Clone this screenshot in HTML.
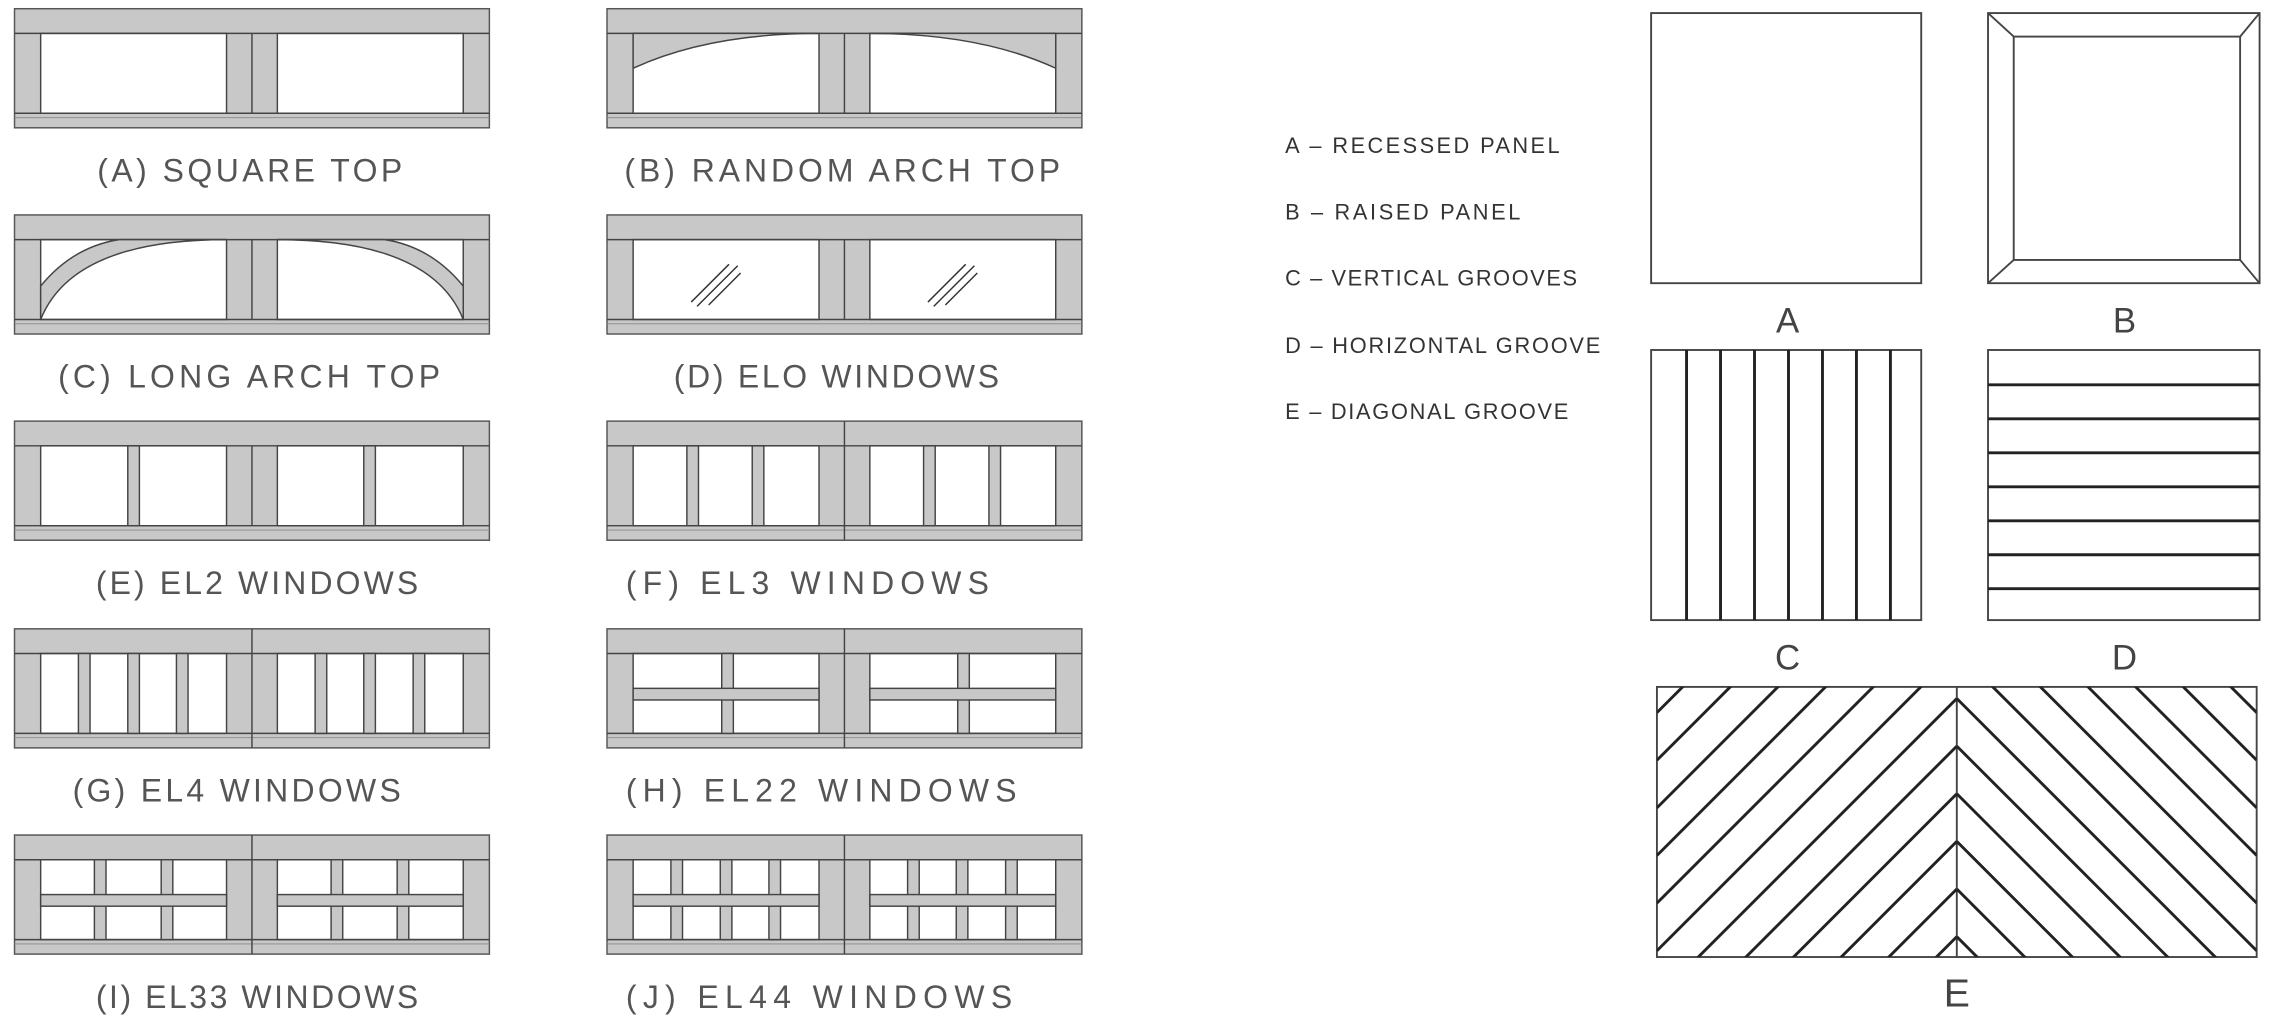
<!DOCTYPE html>
<html><head><meta charset="utf-8"><style>
html,body{margin:0;padding:0;background:#fff;overflow:hidden;width:2277px;height:1026px;}
svg{display:block;}
</style></head><body>
<svg width="2277" height="1026" viewBox="0 0 1568 706.5" preserveAspectRatio="none" xmlns="http://www.w3.org/2000/svg" xmlns:xlink="http://www.w3.org/1999/xlink">
<defs>
<g id="base">
  <rect x="0" y="0" width="327" height="82" fill="#c8c8c8" stroke="#555" stroke-width="1"/>
  <rect x="18" y="17" width="128" height="55" fill="#fff" stroke="#444" stroke-width="1"/>
  <rect x="181" y="17" width="128" height="55" fill="#fff" stroke="#444" stroke-width="1"/>
  <line x1="0" y1="17" x2="327" y2="17" stroke="#444" stroke-width="1"/>
  <line x1="0" y1="72" x2="327" y2="72" stroke="#444" stroke-width="1"/>
  <line x1="0" y1="75" x2="327" y2="75" stroke="#888" stroke-width="0.6"/>
</g>
<g id="c1"><line x1="163.5" y1="17" x2="163.5" y2="72" stroke="#444" stroke-width="1"/></g>
<g id="c2"><line x1="163.5" y1="0" x2="163.5" y2="82" stroke="#444" stroke-width="1"/></g>
<g id="hm">
  <rect x="18" y="41" width="128" height="8" fill="#c8c8c8" stroke="#444" stroke-width="1"/>
  <rect x="181" y="41" width="128" height="8" fill="#c8c8c8" stroke="#444" stroke-width="1"/>
</g>
<clipPath id="eL"><rect x="1141" y="473" width="206.5" height="186"/></clipPath>
<clipPath id="eR"><rect x="1347.5" y="473" width="206.5" height="186"/></clipPath>
</defs>

<g fill="#c8c8c8" stroke="#444" stroke-width="1">
<g transform="translate(10,6)"><use xlink:href="#base"/><use xlink:href="#c1"/></g>
<g transform="translate(418,6)"><use xlink:href="#base"/>
  <path d="M18,17 L146,17 Q70,17 18,41 Z"/>
  <path d="M309,17 L181,17 Q257,17 309,41 Z"/>
  <use xlink:href="#c1"/></g>
<g transform="translate(10,148)"><use xlink:href="#base"/>
  <path d="M18,72 Q40,17 146,17 L72,17 Q40,22 18,49 Z"/>
  <path d="M309,72 Q287,17 181,17 L255,17 Q287,22 309,49 Z"/>
  <use xlink:href="#c1"/></g>
<g transform="translate(418,148)"><use xlink:href="#base"/><use xlink:href="#c1"/>
  <g stroke="#333" stroke-width="1">
   <line x1="58" y1="60" x2="84" y2="34"/><line x1="62" y1="63" x2="90" y2="35"/><line x1="70" y1="62" x2="92" y2="40"/>
   <line x1="221" y1="60" x2="247" y2="34"/><line x1="225" y1="63" x2="253" y2="35"/><line x1="233" y1="62" x2="255" y2="40"/>
  </g></g>
<g transform="translate(10,290)"><use xlink:href="#base"/><use xlink:href="#c1"/>
  <rect x="78" y="17" width="8" height="55"/><rect x="240.5" y="17" width="8" height="55"/></g>
<g transform="translate(418,290)"><use xlink:href="#base"/><use xlink:href="#c2"/>
  <rect x="55" y="17" width="8" height="55"/><rect x="100" y="17" width="8" height="55"/>
  <rect x="218" y="17" width="8" height="55"/><rect x="263" y="17" width="8" height="55"/></g>
<g transform="translate(10,433)"><use xlink:href="#base"/><use xlink:href="#c2"/>
  <rect x="44" y="17" width="8" height="55"/><rect x="78" y="17" width="8" height="55"/><rect x="111.5" y="17" width="8" height="55"/>
  <rect x="207" y="17" width="8" height="55"/><rect x="240.5" y="17" width="8" height="55"/><rect x="274.5" y="17" width="8" height="55"/></g>
<g transform="translate(418,433)"><use xlink:href="#base"/><use xlink:href="#c2"/>
  <rect x="79" y="17" width="8" height="55"/><rect x="241.5" y="17" width="8" height="55"/>
  <use xlink:href="#hm"/>
  <g stroke="none"><rect x="79.6" y="41.6" width="6.8" height="6.8"/><rect x="242.1" y="41.6" width="6.8" height="6.8"/></g></g>
<g transform="translate(10,575)"><use xlink:href="#base"/><use xlink:href="#c2"/>
  <rect x="55" y="17" width="8" height="55"/><rect x="101" y="17" width="8" height="55"/>
  <rect x="218" y="17" width="8" height="55"/><rect x="263.5" y="17" width="8" height="55"/>
  <use xlink:href="#hm"/>
  <g stroke="none"><rect x="55.6" y="41.6" width="6.8" height="6.8"/><rect x="101.6" y="41.6" width="6.8" height="6.8"/><rect x="218.6" y="41.6" width="6.8" height="6.8"/><rect x="264.1" y="41.6" width="6.8" height="6.8"/></g></g>
<g transform="translate(418,575)"><use xlink:href="#base"/><use xlink:href="#c2"/>
  <rect x="44" y="17" width="8" height="55"/><rect x="78" y="17" width="8" height="55"/><rect x="111.5" y="17" width="8" height="55"/>
  <rect x="207" y="17" width="8" height="55"/><rect x="240.5" y="17" width="8" height="55"/><rect x="274.5" y="17" width="8" height="55"/>
  <use xlink:href="#hm"/>
  <g stroke="none"><rect x="44.6" y="41.6" width="6.8" height="6.8"/><rect x="78.6" y="41.6" width="6.8" height="6.8"/><rect x="112.1" y="41.6" width="6.8" height="6.8"/><rect x="207.6" y="41.6" width="6.8" height="6.8"/><rect x="241.1" y="41.6" width="6.8" height="6.8"/><rect x="275.1" y="41.6" width="6.8" height="6.8"/></g></g>
</g>

<g font-family="Liberation Sans, sans-serif" font-size="22" fill="#555">
<text x="67" y="125" textLength="210" lengthAdjust="spacing">(A) SQUARE TOP</text>
<text x="430" y="125" textLength="300" lengthAdjust="spacing">(B) RANDOM ARCH TOP</text>
<text x="40" y="267" textLength="263" lengthAdjust="spacing">(C) LONG ARCH TOP</text>
<text x="464" y="267" textLength="224" lengthAdjust="spacing">(D) ELO WINDOWS</text>
<text x="66" y="409" textLength="222" lengthAdjust="spacing">(E) EL2 WINDOWS</text>
<text x="431" y="409" textLength="250" lengthAdjust="spacing">(F) EL3 WINDOWS</text>
<text x="50" y="552" textLength="226" lengthAdjust="spacing">(G) EL4 WINDOWS</text>
<text x="431" y="552" textLength="269" lengthAdjust="spacing">(H) EL22 WINDOWS</text>
<text x="66" y="694" textLength="222" lengthAdjust="spacing">(I) EL33 WINDOWS</text>
<text x="431" y="694" textLength="266" lengthAdjust="spacing">(J) EL44 WINDOWS</text>
</g>

<g font-family="Liberation Sans, sans-serif" font-size="15" fill="#333">
<text x="885" y="105.4" textLength="189" lengthAdjust="spacing">A – RECESSED PANEL</text>
<text x="885" y="151" textLength="162" lengthAdjust="spacing">B – RAISED PANEL</text>
<text x="885" y="196.5" textLength="201" lengthAdjust="spacing">C – VERTICAL GROOVES</text>
<text x="885" y="243" textLength="217" lengthAdjust="spacing">D – HORIZONTAL GROOVE</text>
<text x="885" y="288.5" textLength="195" lengthAdjust="spacing">E – DIAGONAL GROOVE</text>
</g>

<g fill="none" stroke="#444" stroke-width="1.3">
<rect x="1137" y="9" width="186" height="186"/>
<rect x="1369" y="9" width="187" height="186"/>
<rect x="1386.7" y="25.2" width="155.9" height="153.8"/>
<line x1="1369" y1="9" x2="1386.7" y2="25.2"/><line x1="1556" y1="9" x2="1542.6" y2="25.2"/>
<line x1="1369" y1="195" x2="1386.7" y2="179"/><line x1="1556" y1="195" x2="1542.6" y2="179"/>
<rect x="1137" y="241" width="186" height="186"/>
<rect x="1369" y="241" width="187" height="186"/>
<rect x="1141" y="473" width="413" height="186"/>
<line x1="1347.5" y1="473" x2="1347.5" y2="659"/>
</g>
<g stroke="#222" stroke-width="2">
<line x1="1161.4" y1="241" x2="1161.4" y2="427"/><line x1="1184.8" y1="241" x2="1184.8" y2="427"/>
<line x1="1208.2" y1="241" x2="1208.2" y2="427"/><line x1="1231.6" y1="241" x2="1231.6" y2="427"/>
<line x1="1255" y1="241" x2="1255" y2="427"/><line x1="1278.4" y1="241" x2="1278.4" y2="427"/>
<line x1="1301.8" y1="241" x2="1301.8" y2="427"/>
<line x1="1369" y1="265" x2="1556" y2="265"/><line x1="1369" y1="288.4" x2="1556" y2="288.4"/>
<line x1="1369" y1="311.8" x2="1556" y2="311.8"/><line x1="1369" y1="335.2" x2="1556" y2="335.2"/>
<line x1="1369" y1="358.6" x2="1556" y2="358.6"/><line x1="1369" y1="382" x2="1556" y2="382"/>
<line x1="1369" y1="405.4" x2="1556" y2="405.4"/>
</g>
<g stroke="#222" stroke-width="2" clip-path="url(#eL)">
<line x1="1347.5" y1="284.2" x2="1141" y2="490.7"/>
<line x1="1347.5" y1="317" x2="1141" y2="523.5"/>
<line x1="1347.5" y1="349.8" x2="1141" y2="556.3"/>
<line x1="1347.5" y1="382.6" x2="1141" y2="589.1"/>
<line x1="1347.5" y1="415.4" x2="1141" y2="621.9"/>
<line x1="1347.5" y1="448.2" x2="1141" y2="654.7"/>
<line x1="1347.5" y1="481" x2="1141" y2="687.5"/>
<line x1="1347.5" y1="513.8" x2="1141" y2="720.3"/>
<line x1="1347.5" y1="546.6" x2="1141" y2="753.1"/>
<line x1="1347.5" y1="579.4" x2="1141" y2="785.9"/>
<line x1="1347.5" y1="612.2" x2="1141" y2="818.7"/>
<line x1="1347.5" y1="645" x2="1141" y2="851.5"/>
</g>
<g stroke="#222" stroke-width="2" clip-path="url(#eR)">
<line x1="1347.5" y1="284.2" x2="1554" y2="490.7"/>
<line x1="1347.5" y1="317" x2="1554" y2="523.5"/>
<line x1="1347.5" y1="349.8" x2="1554" y2="556.3"/>
<line x1="1347.5" y1="382.6" x2="1554" y2="589.1"/>
<line x1="1347.5" y1="415.4" x2="1554" y2="621.9"/>
<line x1="1347.5" y1="448.2" x2="1554" y2="654.7"/>
<line x1="1347.5" y1="481" x2="1554" y2="687.5"/>
<line x1="1347.5" y1="513.8" x2="1554" y2="720.3"/>
<line x1="1347.5" y1="546.6" x2="1554" y2="753.1"/>
<line x1="1347.5" y1="579.4" x2="1554" y2="785.9"/>
<line x1="1347.5" y1="612.2" x2="1554" y2="818.7"/>
<line x1="1347.5" y1="645" x2="1554" y2="851.5"/>
</g>

<g font-family="Liberation Sans, sans-serif" font-size="24" fill="#444" text-anchor="middle">
<text x="1231" y="229">A</text>
<text x="1463" y="229">B</text>
<text x="1231" y="461">C</text>
<text x="1463" y="461">D</text>
<text x="1347.5" y="693" font-size="27">E</text>
</g>
</svg>
</body></html>
